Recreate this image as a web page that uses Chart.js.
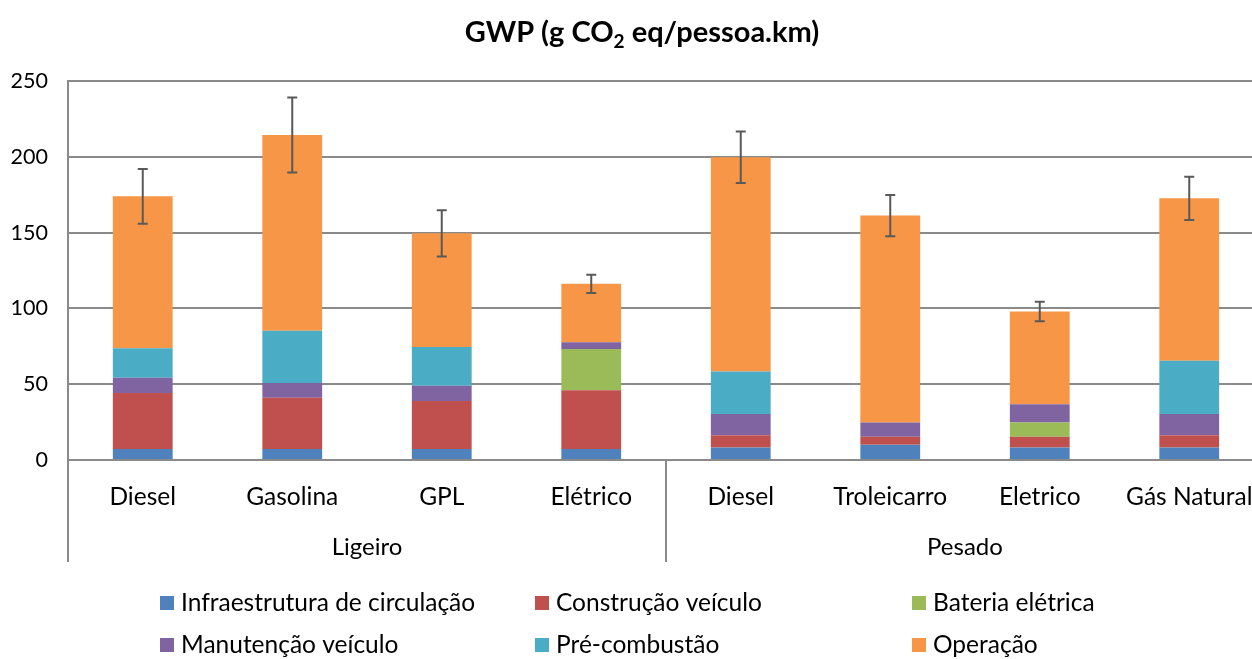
<!DOCTYPE html>
<html>
<head>
<meta charset="utf-8">
<script src="https://cdn.jsdelivr.net/npm/chart.js@4.4.0/dist/chart.umd.min.js"></script>
<style>
  html, body { margin: 0; padding: 0; background: #fff; overflow: hidden; }
  #wrap { width: 1252px; height: 659px; overflow: hidden; position: relative; }
  #gwp { position: absolute; left: 0; top: 0; }
</style>
</head>
<body>
<div id="wrap"><canvas id="gwp" width="1284" height="659"></canvas></div>
<script>
// ===================
// Data
// ===================
const categories = ['Diesel', 'Gasolina', 'GPL', 'Elétrico', 'Diesel', 'Troleicarro', 'Eletrico', 'Gás Natural'];
const groups = ['Ligeiro', 'Pesado'];
const groupSizes = [4, 4];

const infraestrutura = [7.3, 7.3, 7.3, 7.3, 8.3, 10.1, 8.3, 8.3];
const construcao = [36.9, 33.8, 31.7, 38.7, 8.0, 5.3, 7.1, 8.0];
const bateria = [0, 0, 0, 27.3, 0, 0, 9.4, 0];
const manutencao = [10.0, 9.7, 9.9, 4.4, 14.1, 9.4, 11.9, 14.1];
const preCombustao = [19.5, 34.4, 25.7, 0, 27.9, 0, 0, 35.0];
const operacao = [100.2, 129.2, 74.9, 38.5, 141.4, 136.4, 61.3, 107.2];
const erros = [18, 24.7, 15.2, 6, 17, 13.6, 6.4, 14.3];

const yTicks = [0, 50, 100, 150, 200, 250];

const FONT = 'Lato, "Open Sans", sans-serif';
const GRID = '#8a8a8a';

// ===================
// Plugins
// ===================
const titlePlugin = {
  id: 'titleSub',
  afterDraw(chart) {
    const c = chart.ctx;
    const a = 'GWP (g CO', sub = '2', b = ' eq/pessoa.km)';
    c.save();
    c.fillStyle = '#000';
    c.textBaseline = 'alphabetic';
    c.font = 'bold 29px ' + FONT;
    const wa = c.measureText(a).width, wb = c.measureText(b).width;
    c.font = 'bold 19px ' + FONT;
    const ws = c.measureText(sub).width;
    let x = 642 - (wa + ws + wb) / 2;
    const y = 42;
    c.textAlign = 'left';
    c.font = 'bold 29px ' + FONT;
    c.fillText(a, x, y); x += wa;
    c.font = 'bold 19px ' + FONT;
    c.fillText(sub, x, y + 6); x += ws;
    c.font = 'bold 29px ' + FONT;
    c.fillText(b, x, y);
    c.restore();
  }
};

const errorBars = {
  id: 'errorBars',
  afterDatasetsDraw(chart) {
    const c = chart.ctx, ys = chart.scales.y;
    const meta = chart.getDatasetMeta(chart.data.datasets.length - 1);
    c.save();
    c.strokeStyle = '#595959';
    c.lineWidth = 2;
    categories.forEach((_, i) => {
      let tot = 0;
      chart.data.datasets.forEach(ds => { tot += ds.data[i]; });
      const x = meta.data[i].x;
      const y1 = ys.getPixelForValue(tot + erros[i]);
      const y2 = ys.getPixelForValue(tot - erros[i]);
      c.beginPath();
      c.moveTo(x, y1); c.lineTo(x, y2);
      c.moveTo(x - 5, y1); c.lineTo(x + 5, y1);
      c.moveTo(x - 5, y2); c.lineTo(x + 5, y2);
      c.stroke();
    });
    c.restore();
  }
};

const groupAxis = {
  id: 'groupAxis',
  afterDraw(chart) {
    const c = chart.ctx, area = chart.chartArea;
    const w = (area.right - area.left) / categories.length;
    c.save();
    c.strokeStyle = GRID;
    c.lineWidth = 2;
    c.fillStyle = '#000';
    c.font = '24px ' + FONT;
    c.textAlign = 'center';
    c.textBaseline = 'middle';
    let start = 0;
    groups.forEach((g, k) => {
      const x0 = area.left + start * w;
      const x1 = x0 + groupSizes[k] * w;
      c.beginPath();
      c.moveTo(x0, area.bottom); c.lineTo(x0, 562);
      c.moveTo(x1, area.bottom); c.lineTo(x1, 562);
      c.stroke();
      c.fillText(g, (x0 + x1) / 2, 547);
      start += groupSizes[k];
    });
    c.restore();
  }
};

const legendPlugin = {
  id: 'gridLegend',
  afterDraw(chart) {
    const c = chart.ctx;
    const colX = [160, 535, 912], rowY = [603, 645];
    c.save();
    c.font = '24.5px ' + FONT;
    c.textAlign = 'left';
    c.textBaseline = 'middle';
    chart.data.datasets.forEach((ds, i) => {
      const x = colX[i % 3], y = rowY[Math.floor(i / 3)];
      c.fillStyle = ds.backgroundColor;
      c.fillRect(x, y - 7, 14, 14);
      c.fillStyle = '#000';
      c.fillText(ds.label, x + 21, y);
    });
    c.restore();
  }
};

// ===================
// Chart
// ===================
const ctx = document.getElementById('gwp').getContext('2d');

new Chart(ctx, {
  type: 'bar',
  data: {
    labels: categories,
    datasets: [
      { label: 'Infraestrutura de circulação', data: infraestrutura, backgroundColor: '#4F81BD' },
      { label: 'Construção veículo', data: construcao, backgroundColor: '#C0504D' },
      { label: 'Bateria elétrica', data: bateria, backgroundColor: '#9BBB59' },
      { label: 'Manutenção veículo', data: manutencao, backgroundColor: '#8064A2' },
      { label: 'Pré-combustão', data: preCombustao, backgroundColor: '#4BACC6' },
      { label: 'Operação', data: operacao, backgroundColor: '#F79646' }
    ]
  },
  options: {
    responsive: false,
    animation: false,
    barPercentage: 0.4,
    categoryPercentage: 1,
    layout: { padding: { top: 81, right: 20, left: 0, bottom: 0 } },
    plugins: {
      legend: { display: false },
      title: { display: false },
      tooltip: { enabled: false }
    },
    scales: {
      x: {
        stacked: true,
        grid: { display: false, drawTicks: false },
        border: { display: false },
        ticks: { color: '#000', font: { family: FONT, size: 24.5 }, padding: 22, maxRotation: 0 },
        afterFit(s) { s.height = 199; }
      },
      y: {
        stacked: true,
        min: 0,
        max: 250,
        afterBuildTicks(s) { s.ticks = yTicks.map(v => ({ value: v })); },
        grid: { color: GRID, lineWidth: 2, drawTicks: false },
        border: { color: GRID, width: 2 },
        ticks: { color: '#000', font: { family: FONT, size: 21.5 }, padding: 20 },
        afterFit(s) { s.width = 68; }
      }
    }
  },
  plugins: [titlePlugin, errorBars, groupAxis, legendPlugin]
});
</script>
</body>
</html>
